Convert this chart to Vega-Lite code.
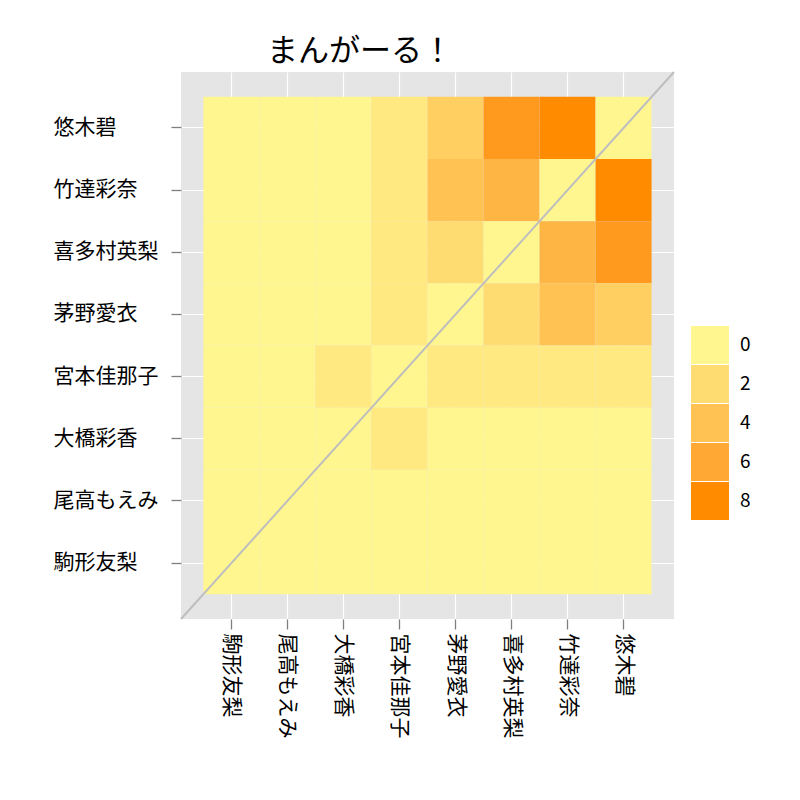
{
  "$schema": "https://vega.github.io/schema/vega-lite/v6.json",
  "width": 493,
  "height": 547,
  "autosize": {"type": "none"},
  "padding": {"left": 181, "top": 72, "right": 126, "bottom": 181},
  "background": "white",
  "title": {"text": "まんがーる！", "anchor": "start", "frame": "group", "dx": 86, "fontSize": 31, "font": "Noto Sans CJK JP", "fontWeight": "normal", "color": "black", "offset": 3},
  "config": {
    "view": {"fill": "#E5E5E5", "stroke": null},
    "font": "Noto Sans CJK JP",
    "axis": {"domain": false, "gridColor": "white", "gridWidth": 1.2, "tickColor": "#7F7F7F", "tickWidth": 1.3, "tickSize": 10, "labelFont": "Noto Sans CJK JP", "labelFontSize": 21, "labelColor": "black", "title": null, "zindex": 0}
  },
  "layer": [
    {
      "data": {"values": [
        {"r": "悠木碧", "c": "駒形友梨", "n": 0}, {"r": "悠木碧", "c": "尾高もえみ", "n": 0}, {"r": "悠木碧", "c": "大橋彩香", "n": 0}, {"r": "悠木碧", "c": "宮本佳那子", "n": 1}, {"r": "悠木碧", "c": "茅野愛衣", "n": 3}, {"r": "悠木碧", "c": "喜多村英梨", "n": 7}, {"r": "悠木碧", "c": "竹達彩奈", "n": 8}, {"r": "悠木碧", "c": "悠木碧", "n": 0},
        {"r": "竹達彩奈", "c": "駒形友梨", "n": 0}, {"r": "竹達彩奈", "c": "尾高もえみ", "n": 0}, {"r": "竹達彩奈", "c": "大橋彩香", "n": 0}, {"r": "竹達彩奈", "c": "宮本佳那子", "n": 1}, {"r": "竹達彩奈", "c": "茅野愛衣", "n": 4}, {"r": "竹達彩奈", "c": "喜多村英梨", "n": 5}, {"r": "竹達彩奈", "c": "竹達彩奈", "n": 0}, {"r": "竹達彩奈", "c": "悠木碧", "n": 8},
        {"r": "喜多村英梨", "c": "駒形友梨", "n": 0}, {"r": "喜多村英梨", "c": "尾高もえみ", "n": 0}, {"r": "喜多村英梨", "c": "大橋彩香", "n": 0}, {"r": "喜多村英梨", "c": "宮本佳那子", "n": 1}, {"r": "喜多村英梨", "c": "茅野愛衣", "n": 2}, {"r": "喜多村英梨", "c": "喜多村英梨", "n": 0}, {"r": "喜多村英梨", "c": "竹達彩奈", "n": 5}, {"r": "喜多村英梨", "c": "悠木碧", "n": 7},
        {"r": "茅野愛衣", "c": "駒形友梨", "n": 0}, {"r": "茅野愛衣", "c": "尾高もえみ", "n": 0}, {"r": "茅野愛衣", "c": "大橋彩香", "n": 0}, {"r": "茅野愛衣", "c": "宮本佳那子", "n": 1}, {"r": "茅野愛衣", "c": "茅野愛衣", "n": 0}, {"r": "茅野愛衣", "c": "喜多村英梨", "n": 2}, {"r": "茅野愛衣", "c": "竹達彩奈", "n": 4}, {"r": "茅野愛衣", "c": "悠木碧", "n": 3},
        {"r": "宮本佳那子", "c": "駒形友梨", "n": 0}, {"r": "宮本佳那子", "c": "尾高もえみ", "n": 0}, {"r": "宮本佳那子", "c": "大橋彩香", "n": 1}, {"r": "宮本佳那子", "c": "宮本佳那子", "n": 0}, {"r": "宮本佳那子", "c": "茅野愛衣", "n": 1}, {"r": "宮本佳那子", "c": "喜多村英梨", "n": 1}, {"r": "宮本佳那子", "c": "竹達彩奈", "n": 1}, {"r": "宮本佳那子", "c": "悠木碧", "n": 1},
        {"r": "大橋彩香", "c": "駒形友梨", "n": 0}, {"r": "大橋彩香", "c": "尾高もえみ", "n": 0}, {"r": "大橋彩香", "c": "大橋彩香", "n": 0}, {"r": "大橋彩香", "c": "宮本佳那子", "n": 1}, {"r": "大橋彩香", "c": "茅野愛衣", "n": 0}, {"r": "大橋彩香", "c": "喜多村英梨", "n": 0}, {"r": "大橋彩香", "c": "竹達彩奈", "n": 0}, {"r": "大橋彩香", "c": "悠木碧", "n": 0},
        {"r": "尾高もえみ", "c": "駒形友梨", "n": 0}, {"r": "尾高もえみ", "c": "尾高もえみ", "n": 0}, {"r": "尾高もえみ", "c": "大橋彩香", "n": 0}, {"r": "尾高もえみ", "c": "宮本佳那子", "n": 0}, {"r": "尾高もえみ", "c": "茅野愛衣", "n": 0}, {"r": "尾高もえみ", "c": "喜多村英梨", "n": 0}, {"r": "尾高もえみ", "c": "竹達彩奈", "n": 0}, {"r": "尾高もえみ", "c": "悠木碧", "n": 0},
        {"r": "駒形友梨", "c": "駒形友梨", "n": 0}, {"r": "駒形友梨", "c": "尾高もえみ", "n": 0}, {"r": "駒形友梨", "c": "大橋彩香", "n": 0}, {"r": "駒形友梨", "c": "宮本佳那子", "n": 0}, {"r": "駒形友梨", "c": "茅野愛衣", "n": 0}, {"r": "駒形友梨", "c": "喜多村英梨", "n": 0}, {"r": "駒形友梨", "c": "竹達彩奈", "n": 0}, {"r": "駒形友梨", "c": "悠木碧", "n": 0}
      ]},
      "mark": {"type": "rect"},
      "encoding": {
        "x": {"field": "c", "type": "nominal", "sort": ["駒形友梨", "尾高もえみ", "大橋彩香", "宮本佳那子", "茅野愛衣", "喜多村英梨", "竹達彩奈", "悠木碧"], "scale": {"paddingInner": 0, "paddingOuter": 0.4}, "axis": {"labelAngle": 90, "labelAlign": "left", "labelBaseline": "middle", "labelPadding": 4, "grid": true, "bandPosition": 0.5, "title": null, "zindex": 0}},
        "y": {"field": "r", "type": "nominal", "sort": ["悠木碧", "竹達彩奈", "喜多村英梨", "茅野愛衣", "宮本佳那子", "大橋彩香", "尾高もえみ", "駒形友梨"], "scale": {"paddingInner": 0, "paddingOuter": 0.4}, "axis": {"labelAlign": "left", "labelPadding": 118, "grid": true, "bandPosition": 0.5, "title": null, "zindex": 0}},
        "color": {"field": "n", "type": "quantitative", "scale": {"domain": [0, 8], "range": ["#FFF68F", "#FF8C00"], "interpolate": "lab"}, "legend": {"type": "symbol", "values": [0, 2, 4, 6, 8], "title": null, "orient": "none", "legendX": 510, "legendY": 254, "symbolType": "square", "symbolSize": 1444, "symbolStrokeWidth": 0, "symbolOpacity": 1, "rowPadding": 1, "labelOffset": 11, "labelFontSize": 19, "labelColor": "black", "labelFont": "Noto Sans CJK JP", "padding": 0}}
      }
    },
    {
      "data": {"values": [{"x0": 0, "y0": 0, "x1": 1, "y1": 1}]},
      "mark": {"type": "rule", "color": "#BEBEBE", "strokeWidth": 2},
      "encoding": {
        "x": {"field": "x0", "type": "quantitative", "scale": {"domain": [0, 1], "nice": false}, "axis": null},
        "x2": {"field": "x1"},
        "y": {"field": "y0", "type": "quantitative", "scale": {"domain": [0, 1], "nice": false}, "axis": null},
        "y2": {"field": "y1"}
      }
    }
  ],
  "resolve": {"scale": {"x": "independent", "y": "independent"}}
}
